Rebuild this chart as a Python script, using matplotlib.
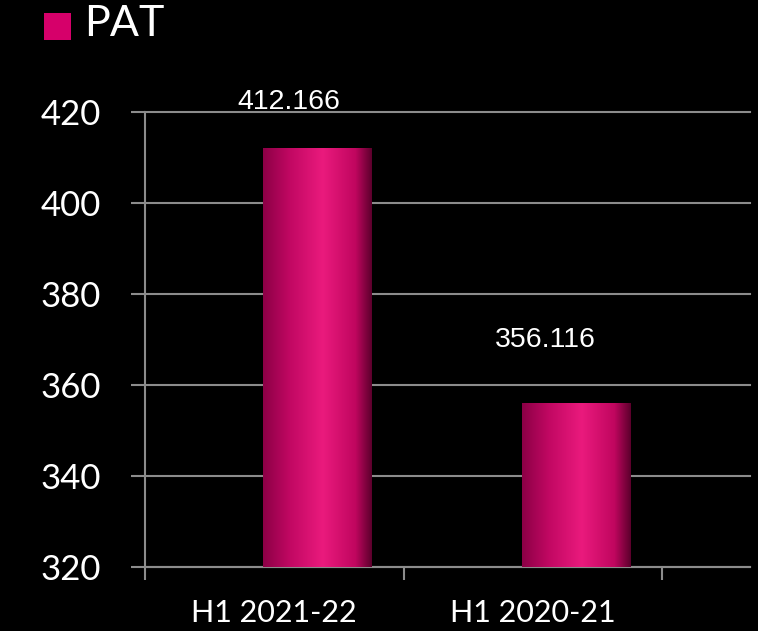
import numpy as np
import matplotlib
matplotlib.use("Agg")
from matplotlib import pyplot as plt
from matplotlib.colors import LinearSegmentedColormap
from matplotlib.patches import Rectangle

categories = ["H1 2021-22", "H1 2020-21"]
pat = [412.166, 356.116]
yticks = [320, 340, 360, 380, 400, 420]
# label offsets in points from the top centre of each bar
label_offsets = [(-21, 33), (-22, 45)]

grey = "#8c8c8c"
bar_cmap = LinearSegmentedColormap.from_list(
    "pat", [(0.0, "#8c0046"), (0.25, "#c20863"), (0.55, "#ea1a7d"),
            (0.85, "#c0065f"), (1.0, "#5c002c")])

fig = plt.figure(figsize=(7.58, 6.31), dpi=100, facecolor="black")
ax = fig.add_axes([145 / 758, 64 / 631, 605 / 758, 455 / 631], facecolor="black")

width = 0.42
shift = 0.168
xs = [i + 0.5 + shift for i in range(len(categories))]
bars = ax.bar(xs, pat, width=width, bottom=0, color="none", zorder=3)

# horizontal gradient fill clipped to each bar
grad = np.linspace(0, 1, 256).reshape(1, -1)
for b in bars:
    x0, w = b.get_x(), b.get_width()
    im = ax.imshow(grad, cmap=bar_cmap, aspect="auto", zorder=3,
                   extent=[x0, x0 + w, yticks[0], b.get_height()])
    im.set_clip_path(b)

for x, v, (dx, dy) in zip(xs, pat, label_offsets):
    ax.annotate(f"{v:.3f}", xy=(x, v), xytext=(dx, dy), textcoords="offset points",
                ha="center", va="center", color="white", fontsize=20.5,
                family="Liberation Sans", annotation_clip=False)

ax.set_xlim(0, 605 / 258.5)
ax.set_ylim(yticks[0], yticks[-1])
ax.set_yticks(yticks)
ax.set_yticklabels([str(t) for t in yticks], family="Lato", fontsize=25, color="white")
ax.tick_params(axis="y", length=10, width=1.5, color=grey, pad=22)

ax.set_xticks([0.5, 1.5])
ax.set_xticklabels(categories, family="Lato", fontsize=22, color="white")
ax.set_xticks([0, 1, 2], minor=True)
ax.tick_params(axis="x", which="major", length=0, pad=23)
ax.tick_params(axis="x", which="minor", length=9, width=1.5, color=grey)

ax.yaxis.grid(True, color=grey, linewidth=1.5)
for line in ax.get_ygridlines():
    line.set_clip_on(False)
ax.set_axisbelow(True)

for side in ["top", "right"]:
    ax.spines[side].set_visible(False)
for side in ["left", "bottom"]:
    ax.spines[side].set_color(grey)
    ax.spines[side].set_linewidth(1.5)

# legend
fig.patches.append(Rectangle((44 / 758, 1 - 40 / 631), 27 / 758, 27 / 631,
                             transform=fig.transFigure, facecolor="#d6006a",
                             edgecolor="none"))
fig.text(84 / 758, 1 - 24 / 631, "PAT", family="Lato", fontsize=31,
         color="white", va="center", ha="left")

fig.savefig("out.png", dpi=100, facecolor="black")
